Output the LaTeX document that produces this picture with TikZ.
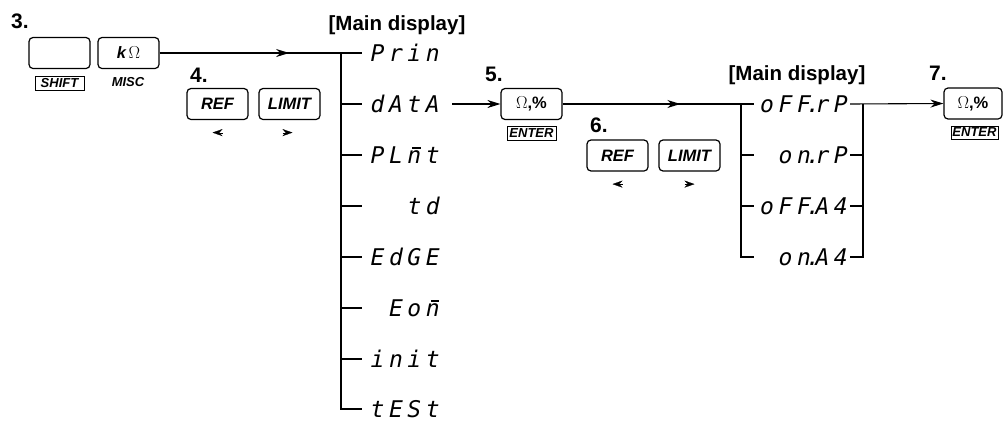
\documentclass[tikz,border=0pt]{standalone}
\usepackage{fontspec}
\setmainfont{Liberation Sans}
\newfontfamily\segfont[LetterSpace=20]{DejaVu Sans Mono}
\usetikzlibrary{arrows.meta,decorations.markings}
% decimal point and barred n of the segment display
\newcommand\sdot{\hspace{0.1em}\makebox[0pt]{.}\hspace{0.1em}}
\newcommand\nbar{n\llap{\raisebox{0.64em}{\rule{0.36em}{0.07em}}\hspace{0.03em}}\hspace{0.2em}}

\begin{document}
\begin{tikzpicture}[
        x=1pt, y=-1pt,
        key/.style={rectangle, draw=black, line width=1.2pt, rounded corners=4pt, minimum width=61pt, minimum height=31pt, inner sep=0pt, font=\fontsize{16.5}{16.5}\selectfont\bfseries\itshape},
        tag/.style={rectangle, draw=black, line width=0.8pt, minimum width=49pt, minimum height=14.5pt, inner sep=0pt, font=\fontsize{13}{13}\selectfont\bfseries\itshape},
        step_num/.style={anchor=base west, inner sep=0pt, font=\fontsize{21}{21}\selectfont\bfseries},
        heading/.style={anchor=base, inner sep=0pt, font=\fontsize{20.5}{20.5}\selectfont\bfseries},
        seg/.style={anchor=east, inner sep=0pt, text height=16.8pt, text depth=0pt, font=\fontsize{23}{23}\selectfont\segfont\itshape},
        line/.style={line width=1.1pt},
        arrow/.style={line, -{Stealth[length=13pt, width=8pt]}},
        midarrow/.style={line, postaction={decorate}, decoration={markings, mark=at position #1 with {\arrow{Stealth[length=13pt, width=8pt]}}}},
        pointer/.style={-{Stealth[length=10pt, width=7pt]}, line width=0.2pt}
    ]
    \useasboundingbox (0,0) rectangle (1003,421);

    % Step 3: SHIFT + MISC
    \node[step_num] (st3) at (11,28) {3.};
    \node[key] (kBlank) at (59.5,53) {};
    \node[key] (kOhm) at (128.5,53) {k\,$\Omega$};
    \node[tag] (tShift) at (59.5,83.5) {SHIFT};
    \node[font=\fontsize{13}{13}\selectfont\bfseries\itshape] (tMisc) at (128,82) {MISC};

    % Step 4: choose the item
    \node[step_num] (st4) at (190,82) {4.};
    \node[key] (kRef1) at (217.5,104) {REF};
    \node[key] (kLim1) at (289.5,104) {LIMIT};
    \draw[pointer] ([xshift=5pt, yshift=-12.5pt]kRef1.south) -- ([xshift=-5pt, yshift=-12.5pt]kRef1.south);
    \draw[pointer] ([xshift=-7pt, yshift=-12.5pt]kLim1.south) -- ([xshift=3pt, yshift=-12.5pt]kLim1.south);

    % Main display, menu items
    \node[heading] (hd1) at (397,30) {[Main display]};
    \node[seg] (n1) at (440,53) {Prin};
    \node[seg] (n2) at (440,104) {dAtA};
    \node[seg] (n3) at (440,155) {PL\nbar t};
    \node[seg] (n4) at (440,206) {td};
    \node[seg] (n5) at (440,257) {EdGE};
    \node[seg] (n6) at (440,308) {Eo\nbar};
    \node[seg] (n7) at (440,359) {init};
    \node[seg] (n8) at (440,409) {tESt};

    % menu tree
    \coordinate (jL) at (341,0);
    \coordinate (eL) at (362,0);
    \draw[midarrow=0.64] (kOhm.east) -- (eL |- n1);
    \draw[line] (jL |- n1) |- (eL |- n8);
    \draw[line] (jL |- n2) -- (eL |- n2);
    \draw[line] (jL |- n3) -- (eL |- n3);
    \draw[line] (jL |- n4) -- (eL |- n4);
    \draw[line] (jL |- n5) -- (eL |- n5);
    \draw[line] (jL |- n6) -- (eL |- n6);
    \draw[line] (jL |- n7) -- (eL |- n7);

    % Step 5: ENTER
    \node[step_num] (st5) at (485,81) {5.};
    \node[key] (kPct1) at (531.5,104) {\upshape$\Omega$,\%};
    \node[tag] (tEnt1) at (531.5,133.5) {ENTER};
    \draw[arrow] ([xshift=12pt]n2.east) -- (kPct1.west);

    % Step 6: choose the setting
    \node[step_num] (st6) at (590,132) {6.};
    \node[key] (kRef2) at (617.5,155.5) {REF};
    \node[key] (kLim2) at (689.5,155.5) {LIMIT};
    \draw[pointer] ([xshift=5pt, yshift=-12.5pt]kRef2.south) -- ([xshift=-5pt, yshift=-12.5pt]kRef2.south);
    \draw[pointer] ([xshift=-5pt, yshift=-12.5pt]kLim2.south) -- ([xshift=5pt, yshift=-12.5pt]kLim2.south);

    % Main display, settings
    \node[heading] (hd2) at (797,80) {[Main display]};
    \node[seg] (s1) at (848,104) {oFF\sdot rP};
    \node[seg] (s2) at (848,155) {on\sdot rP};
    \node[seg] (s3) at (848,206) {oFF\sdot A4};
    \node[seg] (s4) at (848,257) {on\sdot A4};

    % settings tree
    \coordinate (jR) at (741,0);
    \coordinate (eR) at (754,0);
    \coordinate (fR) at (850,0);
    \coordinate (kR) at (863,0);
    \draw[midarrow=0.615] (kPct1.east) -- (eR |- s1);
    \draw[line] (jR |- s1) |- (eR |- s4);
    \draw[line] (jR |- s2) -- (eR |- s2);
    \draw[line] (jR |- s3) -- (eR |- s3);
    \draw[line] (fR |- s4) -| (kR |- s1);
    \draw[line] (fR |- s2) -- (kR |- s2);
    \draw[line] (fR |- s3) -- (kR |- s3);

    % Step 7: ENTER
    \node[step_num] (st7) at (929,80) {7.};
    \node[key, minimum width=58pt] (kPct2) at (973,103.5) {\upshape$\Omega$,\%};
    \node[tag, minimum width=47pt, minimum height=13pt] (tEnt2) at (974.5,132.5) {ENTER};
    \draw[arrow] (fR |- s1) -- (kPct2.west);

    \end{tikzpicture}
\end{document}
